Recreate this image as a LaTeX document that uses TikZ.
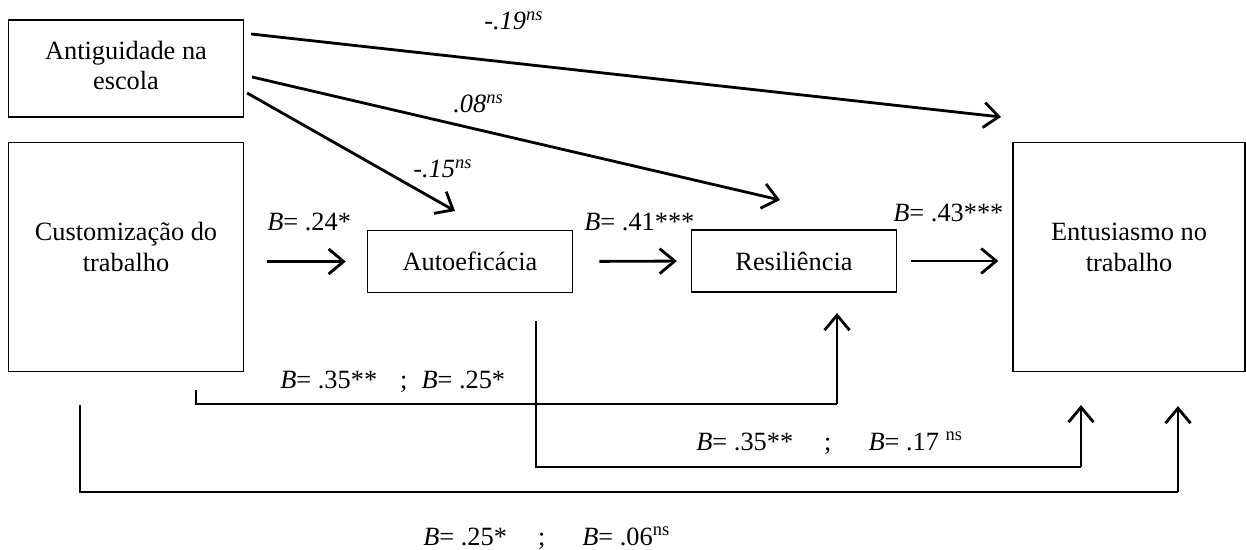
\documentclass[tikz,border=0pt]{standalone}
\usepackage{fontspec}
\setmainfont{Liberation Serif}
\usetikzlibrary{positioning,arrows.meta}

\begin{document}
\begin{tikzpicture}[x=0.02cm,y=-0.02cm,
  box/.style={draw,line width=0.7pt},
  boxtext/.style={align=center,font=\fontsize{15}{17.6}\selectfont},
  arr/.style={line width=1.6pt,-{Straight Barb[length=0.3cm,width=0.5cm]}},
  link/.style={line width=0.7pt},
  coef/.style={font=\fontsize{15}{17.6}\selectfont,inner sep=0pt,anchor=base west}]
  \useasboundingbox (0,0) rectangle (1246,550);

  % variables
  \node[box,minimum width=4.7cm,minimum height=1.94cm,
    label={[boxtext,yshift=0.06cm]center:Antiguidade na\\escola}] (antig) at (126,68.5) {};
  \node[box,minimum width=4.7cm,minimum height=4.58cm,
    label={[boxtext,yshift=0.2cm]center:Customização do\\trabalho}] (custom) at (126,257) {};
  \node[box,boxtext,minimum width=4.1cm,minimum height=1.24cm] (autoef) at (470,261.5) {Autoeficácia};
  \node[box,boxtext,minimum width=4.1cm,minimum height=1.24cm] (resil) at (794,261) {Resiliência};
  \node[box,minimum width=4.64cm,minimum height=4.58cm,
    label={[boxtext,yshift=0.2cm]center:Entusiasmo no\\trabalho}] (entus) at (1129,257) {};

  % free ends
  \coordinate (antA) at (251,34);
  \coordinate (antB) at (252,77);
  \coordinate (antC) at (247,93);
  \coordinate (entA) at (1001,117);
  \coordinate (resA) at (780,200);
  \coordinate (autA) at (455,211);

  % main path
  \draw[arr,shorten <=13pt,shorten >=12pt] (autoef.west -| custom.east) -- (autoef.west);
  \draw[arr,shorten <=15pt,shorten >=8pt] (autoef.east) -- (resil.west);
  \draw[arr,shorten <=8pt,shorten >=8pt] (resil.east) -- (resil.east -| entus.west);

  % control
  \draw[arr] (antA) -- (entA);
  \draw[arr] (antB) -- (resA);
  \draw[arr] (antC) -- (autA);

  % indirect paths
  \coordinate (cusB) at (196,390);
  \coordinate (cusC) at (80,405);
  \coordinate (autB) at (536,321);
  \coordinate (resB) at (837,313);
  \coordinate (entB) at (1081,405);
  \coordinate (entC) at (1178,406);
  \draw[link] (cusB) |- (837,404) coordinate (k1);
  \draw[arr] (k1) -- (resB);
  \draw[link] (autB) |- (1081,467) coordinate (k2);
  \draw[arr] (k2) -- (entB);
  \draw[link] (cusC) |- (1178,492) coordinate (k3);
  \draw[arr] (k3) -- (entC);

  % coefficients
  \node[coef] (l19) at (484,30) {\textit{-.19\textsuperscript{ns}}};
  \node[coef] (l08) at (453,113) {\textit{.08\textsuperscript{ns}}};
  \node[coef] (l15) at (413,178) {\textit{-.15\textsuperscript{ns}}};
  \node[coef] (l24) at (267,231) {\textit{B}= .24*};
  \node[coef] (l41) at (584,231) {\textit{B}= .41***};
  \node[coef] (l43) at (893,222) {\textit{B}= .43***};
  \node[coef] (l35a) at (280,388) {\textit{B}= .35**\hspace{0.46cm};\hspace{0.28cm}\textit{B}= .25*};
  \node[coef] (l35b) at (696,450) {\textit{B}= .35**\hspace{0.62cm};\hspace{0.74cm}\textit{B}= .17 \textsuperscript{ns}};
  \node[coef] (l25) at (423,545) {\textit{B}= .25*\hspace{0.62cm};\hspace{0.74cm}\textit{B}= .06\textsuperscript{ns}};
\end{tikzpicture}
\end{document}
